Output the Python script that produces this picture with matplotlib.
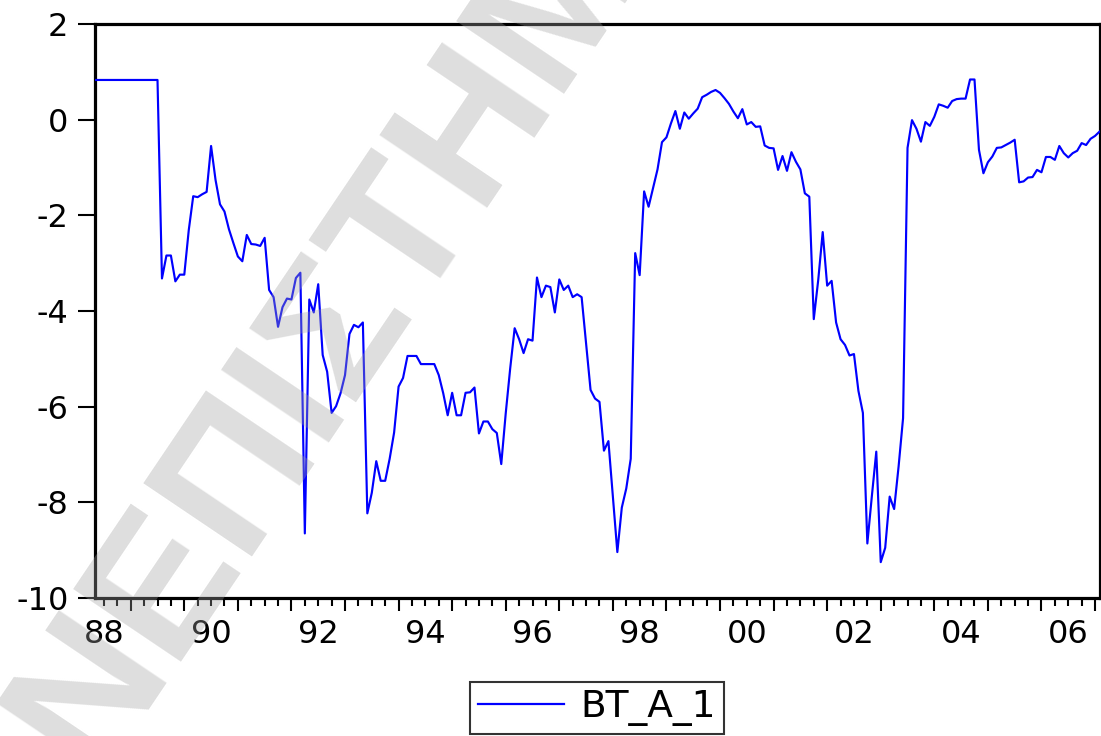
import numpy as np
import matplotlib
matplotlib.use("Agg")
import matplotlib.pyplot as plt
from matplotlib.transforms import blended_transform_factory

# Monthly series, first observation 1988M05
start_year, start_month = 1988, 5
bt_a_1 = [
    # 1988 (May-Dec)
    0.83, 0.83, 0.83, 0.83, 0.83, 0.83, 0.83, 0.83,
    # 1989
    0.83, 0.83, 0.83, 0.83, 0.83, 0.83, 0.83, -3.32, -2.84, -2.84, -3.38, -3.24,
    # 1990
    -3.24, -2.31, -1.60, -1.62, -1.56, -1.51, -0.55, -1.26, -1.77, -1.92, -2.29, -2.58,
    # 1991
    -2.86, -2.96, -2.41, -2.60, -2.61, -2.64, -2.47, -3.56, -3.71, -4.33, -3.92, -3.74,
    # 1992
    -3.76, -3.31, -3.20, -8.65, -3.76, -4.03, -3.44, -4.92, -5.27, -6.13, -5.99, -5.72,
    # 1993
    -5.34, -4.48, -4.29, -4.34, -4.24, -8.23, -7.80, -7.14, -7.55, -7.55, -7.09, -6.54,
    # 1994
    -5.58, -5.40, -4.94, -4.94, -4.94, -5.11, -5.11, -5.11, -5.11, -5.34, -5.72, -6.18,
    # 1995
    -5.71, -6.18, -6.18, -5.71, -5.70, -5.60, -6.56, -6.31, -6.31, -6.47, -6.55, -7.20,
    # 1996
    -6.14, -5.20, -4.36, -4.59, -4.88, -4.59, -4.62, -3.30, -3.71, -3.47, -3.50, -4.03,
    # 1997
    -3.34, -3.56, -3.47, -3.71, -3.65, -3.71, -4.68, -5.65, -5.83, -5.90, -6.92, -6.72,
    # 1998
    -7.88, -9.04, -8.11, -7.71, -7.09, -2.79, -3.25, -1.50, -1.82, -1.43, -1.04, -0.47,
    # 1999
    -0.37, -0.08, 0.18, -0.19, 0.15, 0.02, 0.13, 0.23, 0.47, 0.52, 0.58, 0.62,
    # 2000
    0.56, 0.45, 0.33, 0.17, 0.03, 0.22, -0.10, -0.05, -0.15, -0.14, -0.54, -0.59,
    # 2001
    -0.60, -1.05, -0.76, -1.07, -0.68, -0.88, -1.04, -1.54, -1.61, -4.17, -3.35, -2.35,
    # 2002
    -3.47, -3.37, -4.24, -4.59, -4.71, -4.93, -4.90, -5.67, -6.13, -8.86, -7.88, -6.94,
    # 2003
    -9.25, -8.95, -7.88, -8.14, -7.25, -6.24, -0.59, -0.01, -0.19, -0.46, -0.05, -0.13,
    # 2004
    0.06, 0.32, 0.29, 0.25, 0.39, 0.43, 0.44, 0.44, 0.84, 0.84, -0.63, -1.12,
    # 2005
    -0.89, -0.77, -0.59, -0.58, -0.53, -0.48, -0.42, -1.31, -1.29, -1.21, -1.20, -1.05,
    # 2006
    -1.10, -0.78, -0.78, -0.84, -0.55, -0.70, -0.79, -0.70, -0.65, -0.49, -0.53, -0.40,
    # 2007 (Jan-Feb)
    -0.34, -0.25,
]
series_name = "BT_A_1"

y_ticks = [2, 0, -2, -4, -6, -8, -10]
label_years = [1988, 1990, 1992, 1994, 1996, 1998, 2000, 2002, 2004, 2006]
year_labels = ["88", "90", "92", "94", "96", "98", "00", "02", "04", "06"]
watermark = "ΠΑΝΕΠΙΣΤΗΜΙΟ"

FONT = "DejaVu Sans"
plt.rcParams["font.family"] = [FONT]

n = len(bt_a_1)
t = start_year + (start_month - 1 + np.arange(n)) / 12.0

W, H = 1101, 736
fig = plt.figure(figsize=(W / 100, H / 100), dpi=100)
fig.patch.set_facecolor("white")
ax = fig.add_axes([95 / W, (H - 598) / H, (1099.5 - 95) / W, (598 - 24) / H])

ax.plot(t, bt_a_1, color="#0000ff", lw=1.55, label=series_name, zorder=3)
ax.set_xlim(t[0], t[-1])
ax.set_ylim(-10, 2)

for side in ["left", "right", "top", "bottom"]:
    ax.spines[side].set_linewidth(2.3)
    ax.spines[side].set_color("black")

# y axis
ax.set_yticks(y_ticks)
ax.set_yticklabels([str(v) for v in y_ticks])
ax.tick_params(axis="y", direction="out", length=12, width=1.5,
               labelsize=23, pad=7, colors="black")

# x axis: long ticks at year boundaries, short ticks at quarters
year_edges = np.arange(int(np.ceil(t[0])), int(np.floor(t[-1])) + 1)
quarters = np.arange(np.ceil(t[0] * 4) / 4, t[-1] + 1e-9, 0.25)
quarters = [q for q in quarters if abs(q - round(q)) > 1e-6]
ax.set_xticks(year_edges)
ax.set_xticks(quarters, minor=True)
ax.tick_params(axis="x", which="major", direction="out", length=9.5, width=1.5,
               labelbottom=False)
ax.tick_params(axis="x", which="minor", direction="out", length=5.5, width=1.5)

trans = blended_transform_factory(ax.transData, ax.transAxes)
for yr, lab in zip(label_years, year_labels):
    ax.text(yr + 0.5, -0.064, lab, transform=trans, ha="center", va="center",
            fontsize=23, color="black")

leg = fig.legend(loc="center", bbox_to_anchor=(597 / W, (H - 708) / H),
                 fontsize=27, frameon=True, fancybox=False, shadow=False,
                 handlelength=2.3, handletextpad=0.45, borderpad=0.2,
                 borderaxespad=0)
leg.get_frame().set_edgecolor("black")
leg.get_frame().set_linewidth(1.5)
for line in leg.get_lines():
    line.set_linewidth(1.6)

# semi-transparent diagonal watermark over the plot
fig.text(346 / W, 1 - 399 / H, watermark, rotation=56, rotation_mode="anchor",
         ha="center", va="baseline", fontsize=137, fontweight="bold",
         family=["Liberation Sans", "DejaVu Sans"],
         color="#a0a0a0", alpha=0.35, zorder=10)

fig.savefig("out.png", dpi=100, facecolor="white")
